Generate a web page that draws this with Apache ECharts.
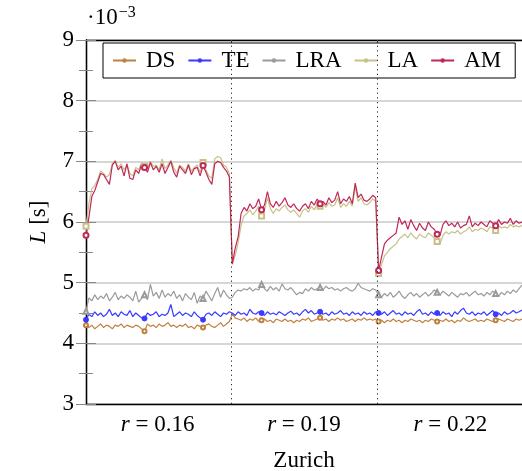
<!DOCTYPE html>
<html>
<head>
<meta charset="utf-8">
<script src="https://cdn.jsdelivr.net/npm/echarts@6/dist/echarts.min.js"></script>
<style>
  html, body { margin: 0; padding: 0; background: #fff; }
  #chart { width: 522px; height: 471px; }
</style>
</head>
<body>
<div id="chart"></div>
<script>
// Latency L (in 1e-3 s) for three radius settings, 50 samples each.
const rLabels = ['0.16', '0.19', '0.22'];
const seriesNames = ['DS', 'TE', 'LRA', 'LA', 'AM'];

const DS = [
  4.30, 4.26, 4.30, 4.24, 4.28, 4.32, 4.26, 4.30, 4.28, 4.24,
  4.30, 4.28, 4.32, 4.26, 4.30, 4.28, 4.26, 4.30, 4.28, 4.24,
  4.20, 4.32, 4.28, 4.30, 4.26, 4.32, 4.28, 4.30, 4.34, 4.28,
  4.30, 4.26, 4.30, 4.28, 4.32, 4.26, 4.28, 4.24, 4.30, 4.28,
  4.26, 4.30, 4.32, 4.28, 4.26, 4.30, 4.34, 4.28, 4.32, 4.36,
  4.48, 4.42, 4.40, 4.38, 4.42, 4.36, 4.40, 4.38, 4.42, 4.36,
  4.38, 4.40, 4.36, 4.38, 4.34, 4.40, 4.38, 4.36, 4.40, 4.36,
  4.38, 4.34, 4.38, 4.36, 4.40, 4.38, 4.42, 4.36, 4.38, 4.40,
  4.42, 4.38, 4.40, 4.36, 4.40, 4.38, 4.42, 4.38, 4.40, 4.36,
  4.38, 4.40, 4.36, 4.40, 4.38, 4.42, 4.38, 4.40, 4.38, 4.40,
  4.36, 4.38, 4.34, 4.38, 4.36, 4.40, 4.36, 4.38, 4.34, 4.38,
  4.36, 4.40, 4.38, 4.36, 4.38, 4.34, 4.38, 4.36, 4.40, 4.38,
  4.36, 4.38, 4.36, 4.40, 4.36, 4.38, 4.34, 4.38, 4.36, 4.42,
  4.38, 4.36, 4.38, 4.40, 4.36, 4.38, 4.36, 4.40, 4.38, 4.36,
  4.38, 4.40, 4.38, 4.36, 4.40, 4.38, 4.36, 4.40, 4.38, 4.40
];

const TE = [
  4.39, 4.48, 4.44, 4.52, 4.46, 4.50, 4.44, 4.48, 4.56, 4.46,
  4.50, 4.44, 4.52, 4.48, 4.46, 4.54, 4.44, 4.50, 4.46, 4.42,
  4.41, 4.50, 4.46, 4.48, 4.52, 4.44, 4.48, 4.46, 4.50, 4.64,
  4.44, 4.48, 4.52, 4.46, 4.50, 4.48, 4.44, 4.52, 4.46, 4.42,
  4.39, 4.48, 4.50, 4.46, 4.52, 4.48, 4.44, 4.50, 4.48, 4.52,
  4.50, 4.46, 4.52, 4.48, 4.50, 4.46, 4.56, 4.50, 4.48, 4.52,
  4.50, 4.46, 4.52, 4.48, 4.50, 4.47, 4.52, 4.49, 4.46, 4.50,
  4.53, 4.48, 4.50, 4.46, 4.52, 4.56, 4.50, 4.54, 4.48, 4.50,
  4.52, 4.48, 4.50, 4.46, 4.52, 4.48, 4.50, 4.54, 4.48, 4.50,
  4.46, 4.52, 4.48, 4.50, 4.46, 4.52, 4.48, 4.50, 4.46, 4.52,
  4.50, 4.48, 4.52, 4.46, 4.50, 4.54, 4.48, 4.50, 4.46, 4.52,
  4.48, 4.50, 4.46, 4.52, 4.56, 4.48, 4.50, 4.46, 4.52, 4.48,
  4.50, 4.46, 4.52, 4.48, 4.50, 4.44, 4.52, 4.48, 4.54, 4.58,
  4.50, 4.48, 4.52, 4.46, 4.50, 4.48, 4.52, 4.46, 4.50, 4.54,
  4.48, 4.50, 4.46, 4.52, 4.48, 4.50, 4.54, 4.50, 4.52, 4.55
];

const LRA = [
  4.53, 4.75, 4.70, 4.80, 4.72, 4.78, 4.74, 4.82, 4.70, 4.76,
  4.84, 4.72, 4.78, 4.74, 4.80, 4.76, 4.70, 4.86, 4.68, 4.74,
  4.80, 4.72, 4.97, 4.78, 4.84, 4.74, 4.88, 4.76, 4.82, 4.78,
  4.86, 4.74, 4.80, 4.70, 4.82, 4.76, 4.72, 4.84, 4.66, 4.78,
  4.74, 4.86, 4.78, 4.70, 4.82, 4.92, 4.76, 4.88, 4.80, 4.74,
  4.76, 4.84, 4.88, 4.86, 4.90, 4.88, 4.92, 4.86, 4.90, 4.88,
  4.97, 4.90, 4.86, 4.94, 4.88, 4.92, 4.86, 4.98, 4.90, 4.88,
  4.92, 4.86, 4.80, 4.84, 4.82, 4.90, 4.86, 4.92, 4.88, 4.90,
  4.92, 4.88, 4.94, 4.90, 4.92, 4.88, 4.90, 4.86, 4.90, 4.92,
  4.88, 4.86, 4.90, 4.99, 4.92, 4.90, 4.88, 4.86, 4.90, 4.88,
  4.80, 4.76, 4.82, 4.78, 4.84, 4.76, 4.80, 4.86, 4.78, 4.74,
  4.80, 4.84, 4.78, 4.82, 4.76, 4.80, 4.84, 4.78, 4.82, 4.88,
  4.84, 4.80, 4.86, 4.82, 4.78, 4.84, 4.80, 4.76, 4.82, 4.80,
  4.84, 4.78, 4.82, 4.86, 4.80, 4.82, 4.78, 4.84, 4.80, 4.86,
  4.82, 4.78, 4.84, 4.80, 4.86, 4.82, 4.88, 4.84, 4.90, 4.96
];

const LA = [
  5.93, 6.30, 6.55, 6.60, 6.70, 6.84, 6.80, 6.74, 6.78, 6.96,
  7.02, 6.90, 6.96, 6.86, 6.94, 6.80, 6.76, 6.90, 6.86, 6.98,
  6.92, 6.88, 7.00, 6.92, 6.94, 6.86, 7.04, 6.88, 6.94, 7.02,
  6.90, 6.80, 6.94, 6.90, 6.84, 6.96, 6.84, 6.90, 6.94, 6.82,
  6.98, 6.86, 6.76, 6.72, 7.04, 7.08, 7.06, 6.94, 6.90, 6.80,
  5.30, 5.45, 5.66, 5.94, 6.10, 6.14, 6.20, 6.12, 6.18, 6.26,
  6.10, 6.20, 6.40, 6.22, 6.14, 6.22, 6.18, 6.24, 6.28, 6.20,
  6.16, 6.20, 6.14, 6.08, 6.18, 6.22, 6.16, 6.26, 6.20, 6.30,
  6.26, 6.30, 6.24, 6.32, 6.26, 6.28, 6.40, 6.24, 6.30, 6.26,
  6.34, 6.26, 6.58, 6.34, 6.40, 6.30, 6.28, 6.32, 6.38, 6.34,
  5.15, 5.30, 5.44, 5.50, 5.56, 5.60, 5.64, 5.72, 5.76, 5.80,
  5.74, 5.82, 5.76, 5.72, 5.80, 5.76, 5.74, 5.82, 5.78, 5.74,
  5.68, 5.64, 5.78, 5.84, 5.80, 5.84, 5.82, 5.86, 5.80, 5.84,
  5.86, 5.92, 5.84, 5.88, 5.86, 5.90, 5.88, 5.84, 5.92, 5.90,
  5.86, 5.94, 5.90, 5.92, 5.90, 5.96, 5.92, 5.94, 5.92, 5.94
];

const AM = [
  5.78, 6.08, 6.42, 6.52, 6.66, 6.80, 6.78, 6.70, 6.62, 6.94,
  7.00, 6.86, 6.92, 6.76, 6.96, 6.72, 6.70, 6.86, 6.80, 6.95,
  6.90, 6.82, 6.98, 6.86, 6.92, 6.82, 6.96, 6.80, 6.90, 7.00,
  6.82, 6.74, 6.92, 6.86, 6.80, 6.94, 6.78, 6.88, 6.90, 6.76,
  6.93, 6.82, 6.70, 6.62, 6.96, 7.00, 6.98, 6.90, 6.84, 6.74,
  5.31, 5.57, 5.76, 6.14, 6.24, 6.18, 6.30, 6.22, 6.26, 6.38,
  6.20, 6.28, 6.50, 6.30, 6.24, 6.34, 6.26, 6.32, 6.40, 6.28,
  6.24, 6.30, 6.22, 6.18, 6.26, 6.30, 6.22, 6.34, 6.28, 6.38,
  6.30, 6.34, 6.28, 6.40, 6.32, 6.36, 6.50, 6.30, 6.38, 6.34,
  6.42, 6.30, 6.64, 6.40, 6.46, 6.36, 6.34, 6.38, 6.44, 6.40,
  5.20, 5.42, 5.64, 5.70, 5.74, 5.78, 5.82, 6.08, 5.96, 6.02,
  5.88, 6.04, 5.94, 5.86, 5.98, 5.90, 5.86, 6.00, 5.92, 5.88,
  5.80, 5.78, 5.96, 6.02, 5.94, 5.98, 5.92, 6.00, 5.90, 5.94,
  5.96, 6.10, 5.92, 5.98, 5.94, 6.00, 5.96, 5.92, 6.02, 5.98,
  5.94, 6.04, 5.96, 6.00, 5.98, 6.06, 5.96, 6.02, 5.98, 6.00
];

const SAMPLES_PER_GROUP = 50;
const MARK_EVERY = 20;
const FONT = '"Liberation Serif", "DejaVu Serif", serif';
const FS = 23;

const styles = {
  DS:  { color: '#c0803f', mark: 'emptyCircle',   size: 4 },
  TE:  { color: '#3a3aff', mark: 'circle',        size: 5 },
  LRA: { color: '#9a9a9a', mark: 'emptyTriangle', size: 5 },
  LA:  { color: '#c8c088', mark: 'emptyRect',     size: 5 },
  AM:  { color: '#c02858', mark: 'emptyCircle',   size: 5 }
};
const valuesByName = { DS, TE, LRA, LA, AM };

const total = DS.length;
const groupCenters = rLabels.map((_, g) => g * SAMPLES_PER_GROUP + (SAMPLES_PER_GROUP - 1) / 2);
const groupBounds = [1, 2].map(g => g * SAMPLES_PER_GROUP - 0.5);

function buildSeries(name) {
  const st = styles[name];
  const data = valuesByName[name].map((v, i) => ({
    value: [i, v],
    symbol: i % MARK_EVERY === 0 ? st.mark : 'none',
    symbolSize: st.size
  }));
  return {
    name,
    type: 'line',
    data,
    symbol: 'circle',
    symbolSize: st.size,
    showSymbol: true,
    showAllSymbol: true,
    clip: false,
    color: st.color,
    lineStyle: { color: st.color, width: 1.2 },
    itemStyle: { color: st.color, borderColor: st.color, borderWidth: 1 },
    emphasis: { disabled: true },
    animation: false
  };
}

const series = seriesNames.map(buildSeries);
// dotted separators between the radius groups
series[0].markLine = {
  silent: true,
  symbol: ['none', 'none'],
  label: { show: false },
  lineStyle: { color: '#222', type: [1.2, 3.5], width: 1 },
  data: groupBounds.map(b => ({ xAxis: b }))
};

const chart = echarts.init(document.getElementById('chart'), null, { renderer: 'canvas' });

chart.setOption({
  animation: false,
  backgroundColor: '#fff',
  grid: { left: 86, right: 0, top: 40, bottom: 67, containLabel: false, outerBoundsMode: 'none' },
  legend: {
    data: seriesNames,
    left: 103,
    top: 43,
    orient: 'horizontal',
    backgroundColor: '#fff',
    borderColor: '#000',
    borderWidth: 1,
    borderRadius: 0,
    padding: [6, 14, 6, 9],
    itemWidth: 23,
    itemHeight: 3,
    itemGap: 12,
    textStyle: { fontFamily: FONT, fontSize: FS, color: '#000', padding: [0, 0, 0, 5] }
  },
  xAxis: [{
    type: 'value',
    min: 0,
    max: total - 1,
    position: 'bottom',
    name: 'Zurich',
    nameLocation: 'middle',
    nameGap: 45,
    nameTextStyle: { fontFamily: FONT, fontSize: FS, color: '#000' },
    axisLine: { show: true, lineStyle: { color: '#000', width: 1.3 } },
    axisTick: { show: false },
    splitLine: { show: false },
    axisLabel: {
      customValues: groupCenters,
      margin: 9,
      fontFamily: FONT,
      fontSize: FS,
      color: '#000',
      formatter: v => {
        const idx = groupCenters.indexOf(v);
        return idx < 0 ? '' : '{i|r} = ' + rLabels[idx];
      },
      rich: { i: { fontStyle: 'italic', fontFamily: FONT, fontSize: FS, color: '#000' } }
    }
  }, {
    type: 'value',
    min: 0,
    max: total - 1,
    position: 'top',
    axisLine: { show: true, lineStyle: { color: '#000', width: 1.3 } },
    axisTick: { show: true, inside: true, length: 4, customValues: groupBounds, lineStyle: { color: '#555' } },
    axisLabel: { show: false },
    splitLine: { show: false }
  }],
  yAxis: [{
    type: 'value',
    min: 3,
    max: 9,
    interval: 1,
    position: 'left',
    name: '{i|L} [s]',
    nameLocation: 'middle',
    nameRotate: 90,
    nameGap: 36,
    nameTextStyle: {
      fontFamily: FONT, fontSize: FS, color: '#000',
      rich: { i: { fontStyle: 'italic', fontFamily: FONT, fontSize: FS, color: '#000' } }
    },
    axisLine: { show: true, lineStyle: { color: '#000', width: 1.3 } },
    axisTick: { show: true, inside: true, length: 10, lineStyle: { color: '#888' } },
    minorTick: { show: true, splitNumber: 2, length: 7, lineStyle: { color: '#888' } },
    splitLine: { show: true, lineStyle: { color: '#c8c8c8', width: 1.5 } },
    axisLabel: { margin: 12, fontFamily: FONT, fontSize: FS, color: '#000' }
  }, {
    type: 'value',
    min: 3,
    max: 9,
    interval: 1,
    position: 'right',
    axisLine: { show: true, lineStyle: { color: '#000', width: 1.3 } },
    axisTick: { show: true, inside: true, length: 10, lineStyle: { color: '#888' } },
    minorTick: { show: true, splitNumber: 2, length: 7, lineStyle: { color: '#888' } },
    splitLine: { show: false },
    axisLabel: { show: false }
  }],
  graphic: [{
    type: 'text',
    left: 87,
    top: 5,
    style: {
      text: '·10{s|−3}',
      fontFamily: FONT,
      fontSize: FS,
      fill: '#000',
      rich: { s: { fontFamily: FONT, fontSize: 16, fill: '#000', verticalAlign: 'top', padding: [0, 0, 10, 1] } }
    }
  }],
  series
});
</script>
</body>
</html>
